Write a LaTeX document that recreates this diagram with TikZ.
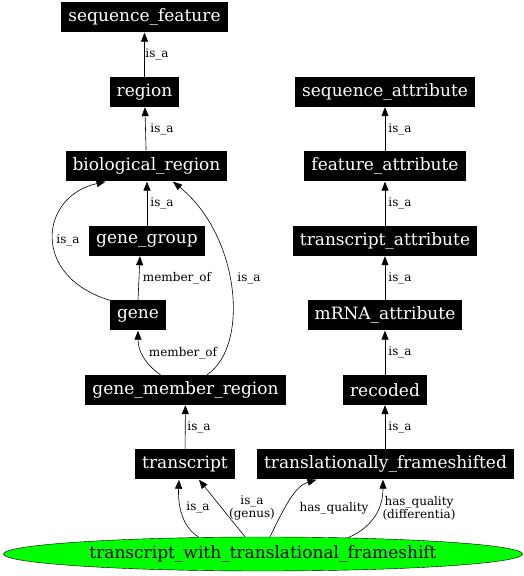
\documentclass[tikz,border=0pt]{standalone}
\usepackage{fontspec}
\setmainfont{DejaVu Serif}
\usetikzlibrary{arrows.meta,shapes.geometric}

\begin{document}
\begin{tikzpicture}[x=1pt,y=1pt,
    term_node/.style={rectangle,fill=black,text=white,font=\fontsize{17}{19}\selectfont,minimum height=30pt,inner xsep=7pt,inner ysep=2pt},
    root_node/.style={ellipse,draw=black,fill=green,font=\fontsize{17}{19}\selectfont,minimum width=519pt,minimum height=34pt,inner sep=0pt},
    edge_label/.style={font=\fontsize{12}{13}\selectfont,align=center,inner sep=1pt},
    rel/.style={-{Triangle[length=9pt,width=7pt]},black,line width=0.6pt}]
    \useasboundingbox (0,0) rectangle (524,576);

    \node[term_node] (seq_feature) at (144.5, 558.5) {sequence\_feature};
    \node[term_node] (region) at (144.5, 484) {region};
    \node[term_node] (bio_region) at (146.5, 409.5) {biological\_region};
    \node[term_node] (gene_group) at (147, 335) {gene\_group};
    \node[term_node] (gene) at (138, 260.5) {gene};
    \node[term_node] (gene_member) at (185.5, 186) {gene\_member\_region};
    \node[term_node] (transcript) at (185, 111.5) {transcript};
    \node[term_node] (frameshifted) at (385.5, 111.5) {translationally\_frameshifted};
    \node[term_node] (seq_attr) at (385, 484) {sequence\_attribute};
    \node[term_node] (feat_attr) at (385, 409.5) {feature\_attribute};
    \node[term_node] (tr_attr) at (385, 335) {transcript\_attribute};
    \node[term_node] (mrna_attr) at (385, 260.5) {mRNA\_attribute};
    \node[term_node] (recoded) at (385, 186) {recoded};
    \node[root_node] (twtf) at (263, 22) {transcript\_with\_translational\_frameshift};

    % left column
    \draw[rel] (region) -- (seq_feature);
    \draw[rel] (bio_region) -- (region);
    \draw[rel] (gene_group.north) -- ([xshift=0.5pt]bio_region.south);
    \draw[rel] (gene.north west) .. controls (30,300) and (40,380) .. ([xshift=-41pt]bio_region.south);
    \draw[rel] (gene.north) -- ([xshift=-7pt]gene_group.south);
    \draw[rel] ([xshift=-25pt]gene_member.north) .. controls (145,212) and (138,225) .. (gene.south);
    \draw[rel] ([xshift=21.5pt]gene_member.north) .. controls (250,230) and (240,340) .. ([xshift=26.5pt]bio_region.south);
    \draw[rel] (transcript) -- (gene_member);

    % right column
    \draw[rel] (feat_attr) -- (seq_attr);
    \draw[rel] (tr_attr) -- (feat_attr);
    \draw[rel] (mrna_attr) -- (tr_attr);
    \draw[rel] (recoded) -- (mrna_attr);
    \draw[rel] (frameshifted.north -| recoded) -- (recoded);

    % root edges
    \draw[rel] ([xshift=-64pt,yshift=-0.5pt]twtf.north) .. controls (180,50) and (178,75) .. ([xshift=-6pt]transcript.south);
    \draw[rel] ([xshift=-18pt]twtf.north) -- ([xshift=14pt]transcript.south);
    \draw[rel] ([xshift=7pt]twtf.north) .. controls (285,70) and (295,90) .. ([xshift=-69pt]frameshifted.south);
    \draw[rel] ([xshift=85pt,yshift=-1pt]twtf.north) .. controls (375,50) and (383,70) .. ([xshift=-2.5pt]frameshifted.south);

    % labels
    \node[edge_label] (l_region) at (157,521) {is\_a};
    \node[edge_label] (l_bio) at (162,446) {is\_a};
    \node[edge_label] (l_group) at (162,372) {is\_a};
    \node[edge_label] (l_gene_bio) at (68,335) {is\_a};
    \node[edge_label] (l_gene_group) at (177,298) {member\_of};
    \node[edge_label] (l_member_gene) at (183,223) {member\_of};
    \node[edge_label] (l_member_bio) at (249,297) {is\_a};
    \node[edge_label] (l_transcript) at (199,148) {is\_a};
    \node[edge_label] (l_seq_attr) at (400,446) {is\_a};
    \node[edge_label] (l_feat_attr) at (400,372) {is\_a};
    \node[edge_label] (l_tr_attr) at (400,297) {is\_a};
    \node[edge_label] (l_mrna_attr) at (400,223) {is\_a};
    \node[edge_label] (l_recoded) at (400,148) {is\_a};
    \node[edge_label] (l_root_isa) at (198,68) {is\_a};
    \node[edge_label] (l_root_genus) at (252,68) {is\_a\\(genus)};
    \node[edge_label] (l_root_quality) at (334,68) {has\_quality};
    \node[edge_label] (l_root_diff) at (419,68) {has\_quality\\(differentia)};
\end{tikzpicture}
\end{document}
